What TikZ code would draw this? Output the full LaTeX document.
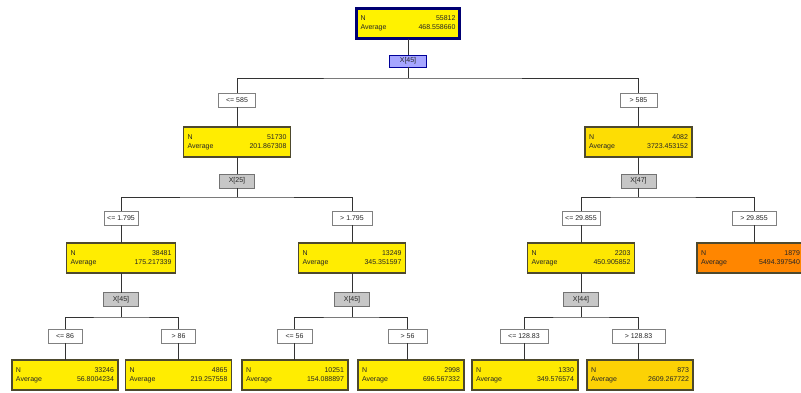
\documentclass[tikz,border=0pt]{standalone}
\usepackage{fontspec}
\setmainfont{Liberation Sans}
\begin{document}
\begin{tikzpicture}[x=1pt,y=-1pt,
  every node/.style={font=\fontsize{7}{9}\selectfont, inner sep=0pt, outer sep=0pt},
  stat/.style={draw=black!60!olive, line width=1.2pt, fill=yellow!95!orange, minimum height=30pt, inner xsep=4pt, text width=\dimexpr#1-8pt\relax, align=left, text=black!85},
  stat/.default=107pt,
  cond/.style={draw=black!50, line width=1pt, fill=white, minimum height=14pt, minimum width=#1, text=black!85},
  cond/.default=36pt,
  var/.style={draw=black!55, line width=1pt, fill=black!22, minimum height=14pt, minimum width=35pt, text=black!85},
  wire/.style={draw=black!80, line width=1pt}
]
\useasboundingbox (0,0) rectangle (801,392);
\clip (0,0) rectangle (801,392);

% root
\node[stat=103pt, draw=blue!45!black, line width=2.2pt, fill=yellow] (r) at (408,23.5) {N\hfill 55812\\Average\hfill 468.558660};
\node[var, fill=blue!35!white, draw=blue!60!black, minimum height=12pt, minimum width=37pt] (s0) at (408,61) {X[45]};
\coordinate (b0) at (408,78);

% level 1
\node[cond=37pt] (e1) at (237,100) {<= 585};
\node[cond=37pt] (e2) at (638.5,100) {> 585};
\node[stat] (n1) at (237,142) {N\hfill 51730\\Average\hfill 201.867308};
\node[stat, fill=yellow!80!orange] (n2) at (638.5,142) {N\hfill 4082\\Average\hfill 3723.453152};
\node[var] (s1) at (237,181) {X[25]};
\node[var] (s2) at (638.5,181) {X[47]};
\coordinate (b1) at (237,197);
\coordinate (b2) at (638.5,197);

% level 2
\node[cond=34pt] (e3) at (121,218) {<= 1.795};
\node[cond=40pt] (e4) at (352,218) {> 1.795};
\node[cond=38pt] (e5) at (581,218) {<= 29.855};
\node[cond=44pt] (e6) at (754,218) {> 29.855};
\node[stat=109pt] (n3) at (121,258) {N\hfill 38481\\Average\hfill 175.217339};
\node[stat] (n4) at (352,258) {N\hfill 13249\\Average\hfill 345.351597};
\node[stat, fill=yellow!90!orange] (n5) at (581,258) {N\hfill 2203\\Average\hfill 450.905852};
\node[stat, fill=orange!95!yellow] (n6) at (750.5,258) {N\hfill 1879\\Average\hfill 5494.397540};
\node[var] (s3) at (121,299.5) {X[45]};
\node[var] (s4) at (352,299.5) {X[45]};
\node[var] (s5) at (581,299.5) {X[44]};
\coordinate (b3) at (121,317);
\coordinate (b4) at (352,317);
\coordinate (b5) at (581,317);

% level 3
\node[cond=34pt] (e7) at (65,336) {<= 86};
\node[cond=34pt] (e8) at (178.5,336) {> 86};
\node[cond=35pt] (e9) at (294.5,336) {<= 56};
\node[cond=39pt] (e10) at (407.5,336) {> 56};
\node[cond=48pt] (e11) at (524,336) {<= 128.83};
\node[cond=53pt] (e12) at (638.5,336) {> 128.83};
\node[stat=106pt] (n7) at (65,375) {N\hfill 33246\\Average\hfill 56.8004234};
\node[stat=106pt] (n8) at (178.5,375) {N\hfill 4865\\Average\hfill 219.257558};
\node[stat=106pt] (n9) at (295,375) {N\hfill 10251\\Average\hfill 154.088897};
\node[stat=106pt] (n10) at (411,375) {N\hfill 2998\\Average\hfill 696.567332};
\node[stat=106pt, fill=yellow!92!orange] (n11) at (525,375) {N\hfill 1330\\Average\hfill 349.576574};
\node[stat=106pt, fill=yellow!70!orange] (n12) at (640,375) {N\hfill 873\\Average\hfill 2609.267722};

% connectors
\path[wire] (r) -- (s0) -- (b0);
\path[wire] (e1.north) |- (b0) -| (e2.north);
\path[wire] (e1) -- (n1); \path[wire] (e2) -- (n2);
\path[wire] (n1) -- (s1) -- (b1); \path[wire] (n2) -- (s2) -- (b2);
\path[wire] (e3.north) |- (b1) -| (e4.north);
\path[wire] (e5.north) |- (b2) -| (e6.north);
\path[wire] (e3) -- (n3); \path[wire] (e4) -- (n4);
\path[wire] (e5) -- (n5); \path[wire] (e6.south) -- (n6.north -| e6);
\path[wire] (n3) -- (s3) -- (b3); \path[wire] (n4) -- (s4) -- (b4); \path[wire] (n5) -- (s5) -- (b5);
\path[wire] (e7.north) |- (b3) -| (e8.north);
\path[wire] (e9.north) |- (b4) -| (e10.north);
\path[wire] (e11.north) |- (b5) -| (e12.north);
\path[wire] (e7.south) -- (n7.north -| e7);
\path[wire] (e8.south) -- (n8.north -| e8);
\path[wire] (e9.south) -- (n9.north -| e9);
\path[wire] (e10.south) -- (n10.north -| e10);
\path[wire] (e11.south) -- (n11.north -| e11);
\path[wire] (e12.south) -- (n12.north -| e12);
\end{tikzpicture}
\end{document}
